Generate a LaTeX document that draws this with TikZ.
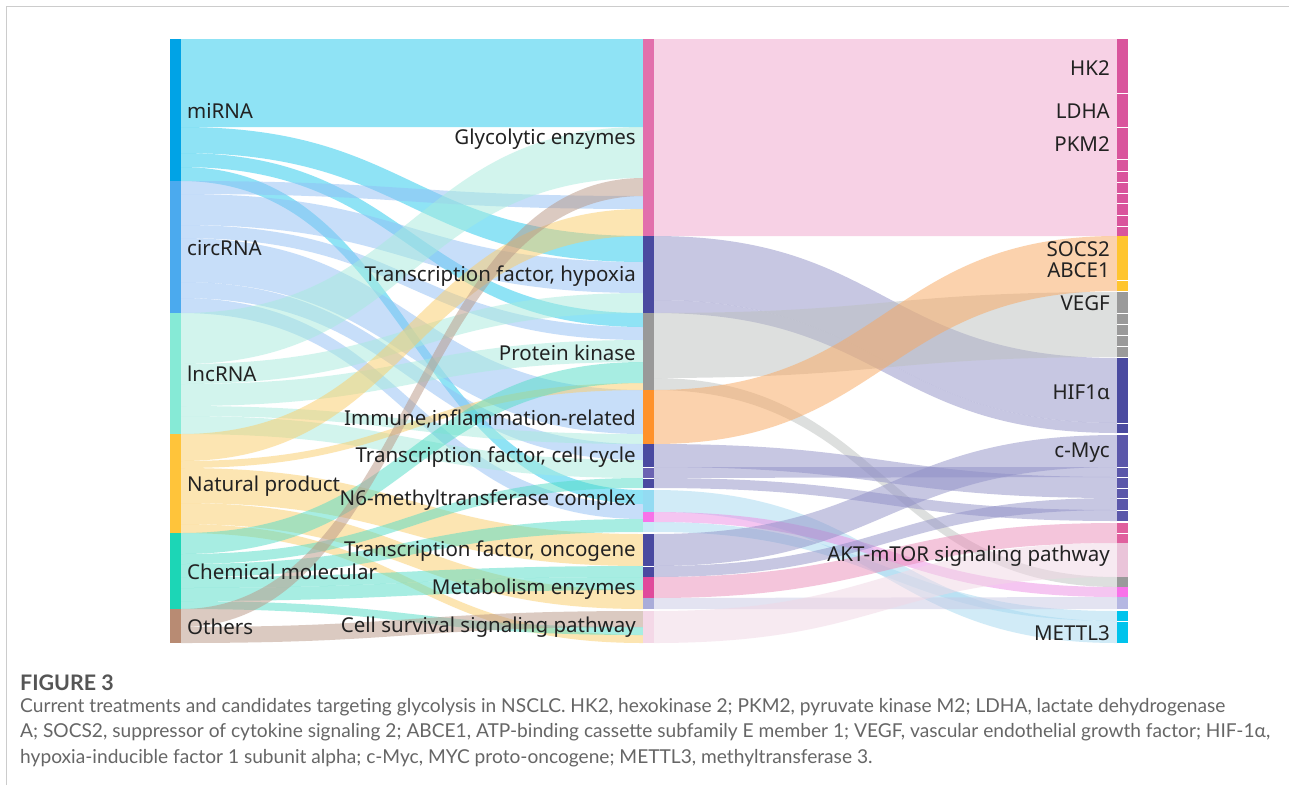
\documentclass[tikz,border=0pt]{standalone}
\usepackage{fontspec}
\setmainfont{Noto Sans}
\newfontfamily\capfont{Lato}
% node colours
\definecolor{nMi}{HTML}{00A3E6}\definecolor{nCi}{HTML}{4BAAEE}\definecolor{nLn}{HTML}{86EAD6}
\definecolor{nNa}{HTML}{FFC43A}\definecolor{nCh}{HTML}{1CD6B6}\definecolor{nOt}{HTML}{B88B73}
\definecolor{nGl}{HTML}{E26FAC}\definecolor{nIn}{HTML}{4A4AA0}\definecolor{nIn2}{HTML}{6B63B2}
\definecolor{nPK}{HTML}{999999}\definecolor{nIm}{HTML}{FF922B}\definecolor{nN6}{HTML}{93DBF2}
\definecolor{nMg}{HTML}{F872E9}\definecolor{nPb}{HTML}{C8EAF7}\definecolor{nMe}{HTML}{E04A9B}
\definecolor{nLv}{HTML}{A9ACD9}\definecolor{nCS}{HTML}{F4D8E7}
\definecolor{nTop}{HTML}{D9559C}\definecolor{nSo}{HTML}{FFC52E}\definecolor{nVe}{HTML}{9A9A9A}
\definecolor{nMy}{HTML}{5B57AA}\definecolor{nPi}{HTML}{E0609E}\definecolor{nAK}{HTML}{EAC4D9}
\definecolor{nLv2}{HTML}{B5B7E2}\definecolor{nMe3}{HTML}{00C3EC}
% flow colours (used at opacity 0.5)
\definecolor{fMi}{HTML}{21C9ED}\definecolor{fCi}{HTML}{91BFF5}\definecolor{fLn}{HTML}{A7EBDD}
\definecolor{fNa}{HTML}{FBCD67}\definecolor{fCh}{HTML}{51DDC7}\definecolor{fOt}{HTML}{B99785}
\definecolor{fGl}{HTML}{F1A5CD}\definecolor{fIn}{HTML}{9191C7}\definecolor{fPK}{HTML}{BDC1BF}
\definecolor{fIm}{HTML}{F9A75D}\definecolor{fN6}{HTML}{A5D9F1}\definecolor{fMg}{HTML}{ED8DE5}
\definecolor{fMe}{HTML}{EB8DB9}\definecolor{fLv}{HTML}{C9C9E5}\definecolor{fCS}{HTML}{F1D7E5}
\definecolor{txt}{HTML}{222222}\definecolor{capc}{HTML}{666666}\definecolor{capb}{HTML}{555555}
\definecolor{framec}{HTML}{CCCCCC}
% band between two columns: x1, a1, a2, x2, b1, b2, colour
\newcommand\band[7]{%
  \fill[#7,fill opacity=0.5] (#1,#2) .. controls ({(#1+#4)/2},#2) and ({(#1+#4)/2},#5) .. (#4,#5)
    -- (#4,#6) .. controls ({(#1+#4)/2},#6) and ({(#1+#4)/2},#3) .. (#1,#3) -- cycle;}
\newcommand\lm[5]{\band{181}{#1}{#2}{643}{#3}{#4}{#5}}
\newcommand\mr[5]{\band{654}{#1}{#2}{1117}{#3}{#4}{#5}}
% bar node: name, x, y1, y2, colour
\newcommand\sbar[5]{\node[barbox,fill=#5,minimum height={(#4-#3)*1pt},anchor=north west] (#1) at (#2,#3) {};}
\newcommand\capsel{\capfont\fontsize{17}{20}\selectfont}
\newsavebox\capbox
\newcommand\capone{Current treatments and candidates targeting glycolysis in NSCLC. HK2, hexokinase 2; PKM2, pyruvate kinase M2; LDHA, lactate dehydrogenase}
\newcommand\capln[1]{\scalebox{\capscale}{\capsel #1}}
\tikzset{
  barbox/.style={draw=none,inner sep=0pt,outer sep=0pt,minimum width=11pt},
  labtxt/.style={text=txt,inner sep=0pt,font=\fontsize{20.5}{24}\selectfont},
  llab/.style={labtxt,anchor=west},
  rlab/.style={labtxt,anchor=east},
  segsep/.style={white,line width=0.8pt},
  captext/.style={anchor=west,inner sep=0pt,text=capc}
}
\begin{document}
\sbox\capbox{\capsel\capone}%
\pgfmathsetmacro\capscale{1205/\the\wd\capbox}%
\begin{tikzpicture}[x=1pt,y=-1pt]
\useasboundingbox (0,0) rectangle (1289,785);
\fill[white] (0,0) rectangle (1289,785);
\draw[framec,line width=1.2pt] (6.5,785) -- (6.5,6.5) -- (1289,6.5);

% ---------- left -> middle flows ----------
% miRNA
\lm{39}{127}{39}{127}{fMi}
\lm{127}{153}{236}{262}{fMi}
\lm{153}{167}{313}{327}{fMi}
\lm{167}{181}{490}{504}{fMi}
% circRNA
\lm{181}{194}{196}{209}{fCi}
\lm{194}{225}{262}{293}{fCi}
\lm{225}{238}{327}{340}{fCi}
\lm{238}{282}{390}{434}{fCi}
\lm{282}{298}{444}{460}{fCi}
\lm{298}{313}{504}{519}{fCi}
% lncRNA
\lm{313}{364}{127}{178}{fLn}
\lm{364}{384}{293}{313}{fLn}
\lm{384}{406}{340}{362}{fLn}
\lm{406}{416}{434}{444}{fLn}
\lm{416}{434}{460}{478}{fLn}
% Natural product
\lm{434}{461}{209}{236}{fNa}
\lm{461}{468}{383}{390}{fNa}
\lm{468}{503}{534}{566}{fNa}
\lm{503}{524}{590}{609}{fNa}
\lm{524}{533}{635}{643}{fNa}
% Chemical molecular
\lm{533}{554}{362}{383}{fCh}
\lm{554}{564}{478}{488}{fCh}
\lm{564}{577}{519}{532}{fCh}
\lm{577}{588}{566}{577}{fCh}
\lm{588}{601}{577}{590}{fCh}
\lm{601}{609}{627}{635}{fCh}
% Others
\lm{609}{627}{178}{196}{fOt}
\lm{627}{643}{611}{627}{fOt}

% ---------- middle -> right flows ----------
\mr{39}{236}{39}{236}{fGl}
\mr{236}{300}{358}{423}{fIn}
\mr{300}{313}{423}{433}{fIn}
\mr{313}{378}{292}{357}{fPK}
\mr{378}{390}{577}{587}{fPK}
\mr{390}{444}{236}{291}{fIm}
\mr{444}{467}{477}{498}{fIn}
\mr{467}{478}{467}{477}{fIn}
\mr{478}{488}{510}{521}{fIn}
\mr{490}{512}{621}{643}{fN6}
\mr{512}{522}{587}{597}{fMg}
\mr{522}{532}{611}{621}{fN6}
\mr{534}{566}{435}{467}{fIn}
\mr{566}{577}{498}{510}{fIn}
\mr{577}{598}{523}{543}{fMe}
\mr{598}{609}{597}{609}{fLv}
\mr{611}{643}{543}{577}{fCS}

% ---------- left bars ----------
\sbar{miRNA}{170}{39}{181}{nMi}
\sbar{circRNA}{170}{181}{313}{nCi}
\sbar{lncRNA}{170}{313}{434}{nLn}
\sbar{natural}{170}{434}{533}{nNa}
\sbar{chemical}{170}{533}{609}{nCh}
\sbar{others}{170}{609}{643}{nOt}

% ---------- middle bars ----------
\sbar{glyco}{643}{39}{236}{nGl}
\sbar{hypoxia}{643}{236}{313}{nIn}
\sbar{pkinase}{643}{313}{390}{nPK}
\sbar{immune}{643}{390}{444}{nIm}
\sbar{tfcc}{643}{444}{467}{nIn}
\sbar{tfccb}{643}{467}{478}{nIn2}
\sbar{tfccc}{643}{478}{488}{nIn}
\sbar{nsix}{643}{490}{512}{nN6}
\sbar{nsixb}{643}{512}{522}{nMg}
\sbar{nsixc}{643}{522}{532}{nPb}
\sbar{tfonc}{643}{534}{566}{nIn}
\sbar{tfoncb}{643}{566}{577}{nIn}
\sbar{metab}{643}{577}{598}{nMe}
\sbar{metabb}{643}{598}{609}{nLv}
\sbar{cellsurv}{643}{611}{643}{nCS}
\draw[segsep] (643,467) -- (654,467) (643,478) -- (654,478) (643,566) -- (654,566);

% ---------- right bars ----------
\sbar{glyset}{1117}{39}{236}{nTop}
\sbar{socs}{1117}{236}{291}{nSo}
\sbar{vegf}{1117}{292}{357}{nVe}
\sbar{hif}{1117}{358}{433}{nIn}
\sbar{cmyc}{1117}{435}{521}{nMy}
\sbar{pinkr}{1117}{523}{543}{nPi}
\sbar{akt}{1117}{543}{577}{nAK}
\sbar{grayr}{1117}{577}{587}{nVe}
\sbar{magr}{1117}{587}{597}{nMg}
\sbar{lavr}{1117}{597}{609}{nLv2}
\sbar{mettl}{1117}{611}{643}{nMe3}
\foreach \yy in {93,127,159,171,182,193,203,215,226,280,313,324,335,346,423,467,477,488,498,510,533,621}
  \draw[segsep] (1117,\yy) -- (1128,\yy);

% ---------- labels ----------
\node[llab] (lmi) at (187,111) {miRNA};
\node[llab] (lci) at (187,248) {circRNA};
\node[llab] (lln) at (187,374) {lncRNA};
\node[llab] (lna) at (187,486) {Natural product};
\node[llab] (lch) at (187,572) {Chemical molecular};
\node[llab] (lot) at (187,627) {Others};

\node[rlab] (lgl) at (636,139) {Glycolytic enzymes};
\node[rlab] (lhy) at (636,276) {Transcription factor, hypoxia};
\node[rlab] (lpk) at (636,353) {Protein kinase};
\node[rlab] (lim) at (636,419) {Immune,inflammation-related};
\node[rlab] (ltc) at (636,457) {Transcription factor, cell cycle};
\node[rlab] (ln6) at (636,500) {N6-methyltransferase complex};
\node[rlab] (lto) at (636,551) {Transcription factor, oncogene};
\node[rlab] (lme) at (636,589) {Metabolism enzymes};
\node[rlab] (lcs) at (636,627) {Cell survival signaling pathway};

\node[rlab] (lhk) at (1110,68) {HK2};
\node[rlab] (lld) at (1110,111) {LDHA};
\node[rlab] (lpm) at (1110,144) {PKM2};
\node[rlab] (lso) at (1110,249) {SOCS2};
\node[rlab] (lab) at (1110,270) {ABCE1};
\node[rlab] (lve) at (1110,303) {VEGF};
\node[rlab] (lhi) at (1110,392) {HIF1α};
\node[rlab] (lmy) at (1110,453) {c-Myc};
\node[rlab] (lak) at (1110,556) {AKT-mTOR signaling pathway};
\node[rlab] (lmt) at (1110,633) {METTL3};

% ---------- caption ----------
\node[captext,text=capb] (fig) at (20,683) {\scalebox{\capscale}{\capfont\bfseries\fontsize{19}{22}\selectfont FIGURE 3}};
\node[captext] (c1) at (20,707) {\capln{\capone}};
\node[captext] (c2) at (20,732) {\capln{A; SOCS2, suppressor of cytokine signaling 2; ABCE1, ATP-binding cassette subfamily E member 1; VEGF, vascular endothelial growth factor; HIF-1α,}};
\node[captext] (c3) at (20,758) {\capln{hypoxia-inducible factor 1 subunit alpha; c-Myc, MYC proto-oncogene; METTL3, methyltransferase 3.}};
\end{tikzpicture}
\end{document}
